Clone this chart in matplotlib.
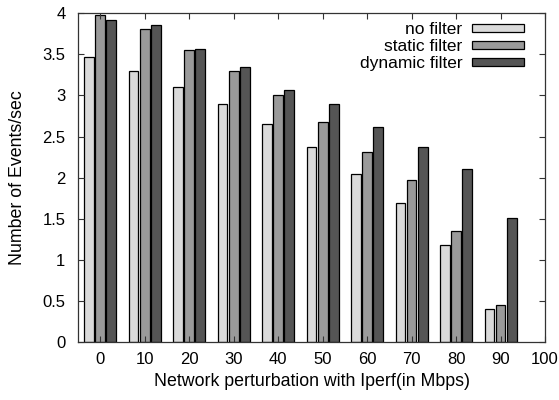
import numpy as np
import matplotlib
matplotlib.use("Agg")
import matplotlib.pyplot as plt

plt.rcParams["font.family"] = ["Liberation Sans", "DejaVu Sans"]

# Iperf perturbation (Mbps) and event rates per filter mode
perturbation = [0, 10, 20, 30, 40, 50, 60, 70, 80, 90]
no_filter = [3.46, 3.30, 3.10, 2.89, 2.65, 2.37, 2.05, 1.69, 1.18, 0.41]
static_filter = [3.97, 3.80, 3.55, 3.30, 3.01, 2.68, 2.31, 1.97, 1.35, 0.45]
dynamic_filter = [3.91, 3.86, 3.56, 3.35, 3.07, 2.90, 2.61, 2.37, 2.11, 1.51]

SERIES = [
    ("no filter", no_filter, "#dadada"),
    ("static filter", static_filter, "#9a9a9a"),
    ("dynamic filter", dynamic_filter, "#555555"),
]

fig = plt.figure(figsize=(5.59, 4.0), dpi=100)
ax = fig.add_axes([0.1395, 0.144, 0.8355, 0.8235])

x = np.array(perturbation, dtype=float)
w = 2.2
offs = [-2.5, 0.0, 2.5]
for (lab, vals, c), o in zip(SERIES, offs):
    ax.bar(x + o, vals, width=w, color=c, edgecolor="black", linewidth=0.9, label=lab)

ax.set_xlim(-5, 100)
ax.set_ylim(0, 4)
ax.set_xticks(np.arange(0, 101, 10))
ax.set_yticks(np.arange(0, 4.01, 0.5))
ax.set_yticklabels(["0", "0.5", "1", "1.5", "2", "2.5", "3", "3.5", "4"])
ax.tick_params(direction="in", top=True, right=True, labelsize=12, length=4,
               width=0.8, color="#333333")
ax.tick_params(axis="y", pad=9)
ax.tick_params(axis="x", pad=7)
for sp in ax.spines.values():
    sp.set_color("#333333")
    sp.set_linewidth(0.9)

ax.set_xlabel("Network perturbation with Iperf(in Mbps)", fontsize=12.8, labelpad=4)
ax.set_ylabel("Number of Events/sec", fontsize=12.8, labelpad=12)

ax.legend(loc="upper right", bbox_to_anchor=(0.966, 0.988), frameon=False,
          markerfirst=False, fontsize=12.5, handlelength=3.0, handleheight=0.28,
          labelspacing=0.12, borderaxespad=0.0, borderpad=0.3, handletextpad=0.55)

fig.savefig("out.png", dpi=100)
plt.close(fig)
